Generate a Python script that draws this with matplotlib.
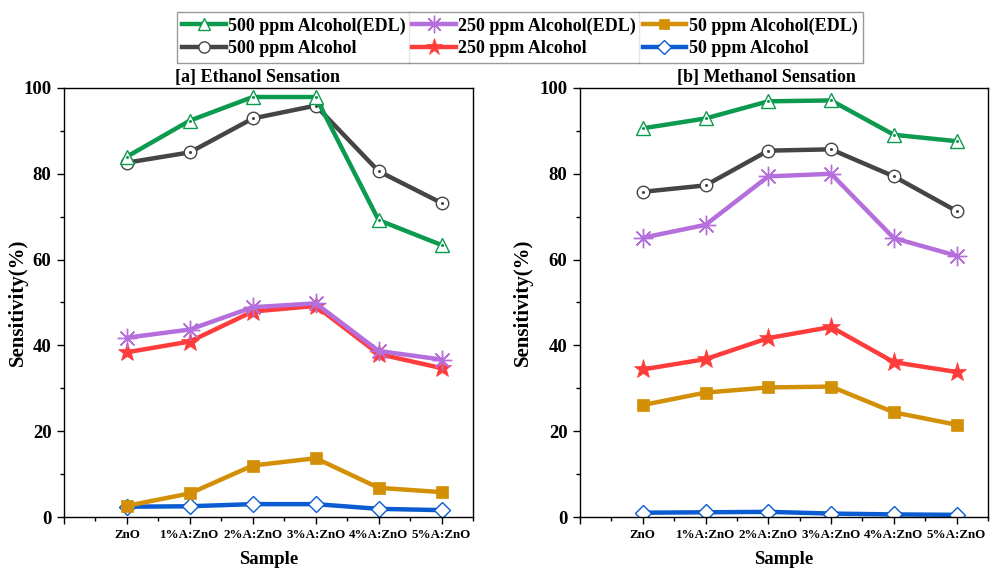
import matplotlib
matplotlib.use("Agg")
import matplotlib.pyplot as plt
from matplotlib.ticker import MultipleLocator, FixedLocator

plt.rcParams["font.family"] = ["Liberation Serif", "DejaVu Serif"]
plt.rcParams["font.weight"] = "bold"

samples = ["ZnO", "1%A:ZnO", "2%A:ZnO", "3%A:ZnO", "4%A:ZnO", "5%A:ZnO"]

# ethanol sensitivity (%)
eth_500_edl = [84.0, 92.4, 97.9, 97.9, 69.2, 63.4]
eth_500 = [82.6, 85.0, 92.9, 95.9, 80.6, 73.2]
eth_250_edl = [41.8, 43.7, 48.9, 49.8, 38.7, 36.7]
eth_250 = [38.4, 40.9, 47.9, 49.2, 38.0, 34.7]
eth_50_edl = [2.6, 5.5, 12.0, 13.7, 6.8, 5.8]
eth_50 = [2.4, 2.5, 3.0, 3.0, 1.9, 1.6]

# methanol sensitivity (%)
met_500_edl = [90.6, 92.9, 96.9, 97.1, 89.1, 87.6]
met_500 = [75.8, 77.3, 85.4, 85.7, 79.4, 71.3]
met_250_edl = [65.1, 68.1, 79.4, 80.0, 65.0, 60.9]
met_250 = [34.4, 36.8, 41.7, 44.3, 36.1, 33.8]
met_50_edl = [26.1, 29.0, 30.2, 30.4, 24.4, 21.5]
met_50 = [1.0, 1.1, 1.2, 0.8, 0.6, 0.5]

labels = ["50 ppm Alcohol", "50 ppm Alcohol(EDL)", "250 ppm Alcohol",
          "250 ppm Alcohol(EDL)", "500 ppm Alcohol", "500 ppm Alcohol(EDL)"]

# color, marker, size, facecolor, centre dot
styles = [
    ("#0a5cd0", "D", 8, "white", False),
    ("#d38f06", "s", 8, None, False),
    ("#ff3c3c", "*", 14, None, False),
    ("#b56fdc", (8, 2, 0), 14, None, False),
    ("#454545", "o", 9, "white", True),
    ("#0b9a4e", "^", 10, "white", True),
]

x = list(range(1, len(samples) + 1))

fig = plt.figure(figsize=(9.94, 5.68), dpi=100)
ax1 = fig.add_axes([64 / 994, 51 / 568, 409 / 994, 429 / 568])
ax2 = fig.add_axes([580 / 994, 51 / 568, 408 / 994, 429 / 568])

handles = []
for ax, series in [(ax1, [eth_50, eth_50_edl, eth_250, eth_250_edl, eth_500, eth_500_edl]),
                   (ax2, [met_50, met_50_edl, met_250, met_250_edl, met_500, met_500_edl])]:
    hs = []
    for y, lab, (c, m, ms, fc, dot) in zip(series, labels, styles):
        h, = ax.plot(x, y, color=c, lw=3.2, marker=m, ms=ms,
                     mfc=fc if fc else c, mec=c, mew=1.0 if fc or m == (8, 2, 0) else 0.5,
                     label=lab)
        if dot:
            ax.plot(x, y, ls="none", marker="o", ms=1.2, color=c)
        hs.append(h)
    handles = hs

    ax.set_xlim(0, 6.5)
    ax.set_ylim(0, 100)
    ax.xaxis.set_major_locator(FixedLocator(range(0, 7)))
    ax.set_xticklabels([""] + samples, fontsize=9.4, fontweight="bold")
    ax.xaxis.set_minor_locator(MultipleLocator(0.5))
    ax.yaxis.set_major_locator(MultipleLocator(20))
    ax.yaxis.set_minor_locator(MultipleLocator(10))
    ax.tick_params(axis="y", which="major", labelsize=13.5, length=5, width=1, pad=4)
    ax.tick_params(axis="x", which="major", length=5, width=1, pad=4)
    ax.tick_params(which="minor", length=3, width=1)
    for lbl in ax.get_yticklabels():
        lbl.set_fontweight("bold")
    for sp in ax.spines.values():
        sp.set_linewidth(1.0)
    ax.set_xlabel("Sample", fontsize=13.5, fontweight="bold", va="top")
    ax.xaxis.set_label_coords(0.5, -0.08)
    ax.set_ylabel("Sensitivity(%)", fontsize=15, fontweight="bold")

ax1.yaxis.set_label_coords(-0.088, 0.5)
ax2.yaxis.set_label_coords(-0.115, 0.5)
ax1.set_title("[a] Ethanol Sensation", fontsize=13, fontweight="bold", x=0.474, pad=4)
ax2.set_title("[b] Methanol Sensation", fontsize=13, fontweight="bold", x=0.458, pad=4)

# legend order: column-wise 500 / 250 / 50
order = [5, 4, 3, 2, 1, 0]
leg = fig.legend([handles[i] for i in order], [labels[i] for i in order],
                 ncol=3, loc="upper left", bbox_to_anchor=(177 / 994, 1 - 12 / 568),
                 bbox_transform=fig.transFigure, borderaxespad=0,
                 prop={"weight": "bold", "size": 13},
                 handlelength=2.4, handletextpad=0.15, columnspacing=0.35,
                 borderpad=0.3, labelspacing=0.3, frameon=True, fancybox=False,
                 edgecolor="#808080", markerscale=0.9)
leg.get_frame().set_linewidth(1.0)

# vertical separators between legend columns
fig.canvas.draw()
r = fig.canvas.get_renderer()
cols = leg._legend_handle_box.get_children()
fb = leg.get_frame().get_window_extent(r)
inv = fig.transFigure.inverted()
for a, b in zip(cols[:-1], cols[1:]):
    xa = a.get_window_extent(r).x1
    xb = b.get_window_extent(r).x0
    xm = (xa + xb) / 2
    p0 = inv.transform((xm, fb.y0))
    p1 = inv.transform((xm, fb.y1))
    fig.add_artist(plt.Line2D([p0[0], p1[0]], [p0[1], p1[1]], color="#808080",
                              lw=1.0, transform=fig.transFigure))

fig.savefig("out.png", dpi=100)
